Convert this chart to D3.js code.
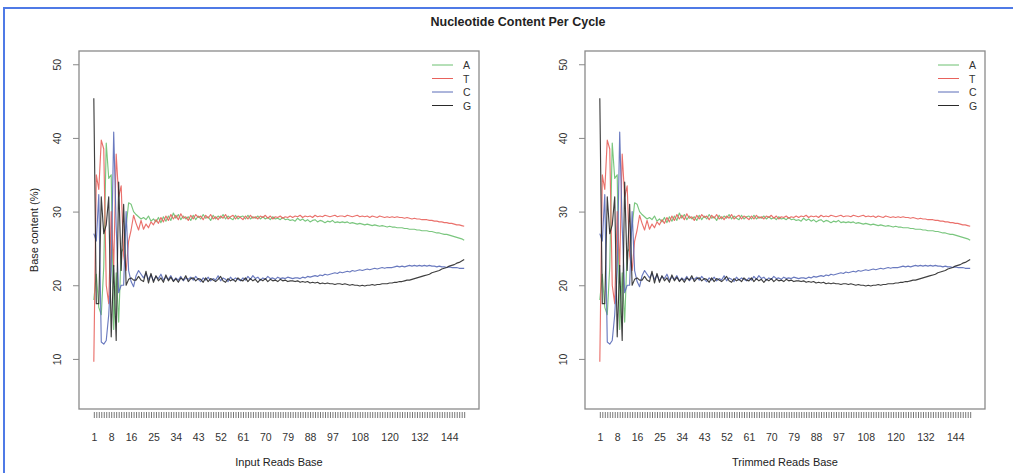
<!DOCTYPE html>
<html>
<head>
<meta charset="utf-8">
<script src="https://cdn.jsdelivr.net/npm/d3@7"></script>
<style>
  body { margin: 0; background: #fff; }
  svg { display: block; font-family: "Liberation Sans", Arial, Helvetica, sans-serif; }
</style>
</head>
<body>
<div id="chart"></div>
<script>
// base content (%) per cycle (positions 1..150)
const posA = [
  18, 21.5, 17, 16, 22.5, 39.3, 34.5, 35, 14, 21.7, 15, 24.5, 25, 28, 31.2, 31, 30, 29.6, 29.3, 29,
  29.2, 28.9, 29.4, 28.7, 29.0, 28.6, 29.2, 28.5, 29.3, 28.7, 29.4, 28.8, 29.8, 29.1, 29.6, 28.9, 29.4, 29.0, 29.3, 28.8,
  29.5, 28.9, 29.4, 29.0, 29.6, 29.1, 29.3, 28.8, 29.5, 29.0, 29.4, 29.1, 29.6, 29.0, 29.4, 29.1, 28.9, 29.5, 29.0, 29.3,
  29.4, 29.0, 29.5, 29.0, 29.3, 29.1, 29.4, 29.0, 29.3, 29.0, 29.2, 28.9, 29.3, 29.0, 29.1, 28.9, 29.2, 28.9, 29.0, 28.8,
  28.9, 28.7, 29.1, 28.8, 29.0, 28.7, 28.9, 28.6, 28.8, 28.9, 28.6, 28.8, 28.7, 28.5, 28.7, 28.6, 28.8, 28.5, 28.6, 28.5,
  28.6, 28.5, 28.6, 28.4, 28.5, 28.4, 28.3, 28.4, 28.3, 28.2, 28.3, 28.2, 28.1, 28.2, 28.1, 28.0, 28.1, 28.0, 27.9, 28.0,
  27.9, 27.9, 27.8, 27.8, 27.8, 27.7, 27.7, 27.6, 27.6, 27.6, 27.5, 27.5, 27.4, 27.4, 27.4, 27.3, 27.3, 27.2, 27.1, 27.1,
  27.0, 26.9, 26.9, 26.8, 26.7, 26.6, 26.5, 26.4, 26.3, 26.1
];
const posT = [
  9.6, 35, 33, 39.7, 38.5, 20, 17.5, 30, 22.5, 37.8, 32, 33.5, 24, 22, 26, 27.5, 29.5, 28.4, 27.5, 28.8,
  27.6, 28.3, 27.8, 28.6, 28.2, 28.9, 28.4, 29.2, 28.6, 29.4, 28.8, 29.6, 29.0, 29.5, 28.9, 29.7, 29.1, 29.3, 28.8, 29.5,
  29.0, 29.6, 29.2, 29.4, 28.9, 29.5, 29.1, 29.6, 29.0, 29.3, 28.9, 29.4, 29.1, 29.6, 29.0, 29.3, 29.5, 29.0, 29.4, 29.2,
  28.9, 29.4, 29.0, 29.5, 29.1, 29.3, 29.0, 29.4, 29.2, 29.5, 29.1, 29.4, 29.0, 29.3, 29.2, 29.4, 29.1, 29.3, 29.2, 29.4,
  29.2, 29.4, 29.3, 29.5, 29.2, 29.4, 29.3, 29.4, 29.2, 29.5, 29.3, 29.4, 29.3, 29.5, 29.4, 29.3, 29.4, 29.5, 29.3, 29.4,
  29.4, 29.3, 29.5, 29.4, 29.3, 29.4, 29.5, 29.3, 29.4, 29.3, 29.4, 29.2, 29.4, 29.3, 29.2, 29.4, 29.3, 29.2, 29.3, 29.2,
  29.3, 29.2, 29.3, 29.2, 29.2, 29.1, 29.2, 29.1, 29.0, 29.1, 29.0, 29.0, 28.9, 28.9, 28.9, 28.8, 28.8, 28.7, 28.7, 28.6,
  28.6, 28.5, 28.5, 28.4, 28.4, 28.3, 28.2, 28.2, 28.1, 28.0
];
const posC = [
  27, 26, 32.3, 12.3, 12, 12.5, 16, 22, 40.8, 28, 19, 20, 20, 30, 22, 20.5, 19.8, 21.3, 22, 21.5,
  21.0, 21.6, 20.8, 21.4, 20.6, 21.2, 20.9, 21.5, 20.7, 21.1, 20.8, 21.3, 20.6, 21.0, 20.7, 21.2, 20.6, 21.0, 20.8, 21.1,
  20.7, 21.2, 20.8, 20.5, 21.0, 20.7, 21.1, 20.6, 20.9, 20.7, 21.3, 20.6, 21.0, 20.8, 20.5, 21.1, 20.7, 21.0, 20.8, 20.6,
  21.0, 20.7, 21.2, 20.8, 21.3, 20.9, 21.1, 20.7, 21.0, 20.8, 21.2, 20.9, 21.0, 20.8, 21.1, 20.9, 21.0, 20.9, 21.1, 21.0,
  20.9, 21.0, 21.0, 20.9, 21.1, 21.0, 21.2, 21.1, 21.2, 21.3, 21.2, 21.4, 21.3, 21.5, 21.4, 21.5, 21.6, 21.7, 21.6, 21.8,
  21.7, 21.8, 21.9, 21.8, 22.0, 21.9, 22.0, 22.1, 22.0, 22.1, 22.2, 22.1, 22.2, 22.3, 22.2, 22.3, 22.4, 22.3, 22.4, 22.4,
  22.4, 22.5, 22.6, 22.5, 22.6, 22.5, 22.6, 22.7, 22.6, 22.7, 22.6, 22.7, 22.6, 22.7, 22.6, 22.7, 22.6, 22.6, 22.5, 22.6,
  22.5, 22.5, 22.4, 22.5, 22.4, 22.4, 22.4, 22.3, 22.3, 22.3
];
const posG = [
  45.4, 17.5, 17.5, 32, 27, 28.2, 32, 13, 22.7, 12.5, 34, 22, 31, 20, 20.8, 21, 20.7, 20.7, 21.2, 20.7,
  20.5, 21.9, 20.3, 21.6, 20.4, 21.3, 20.6, 21.0, 20.4, 21.4, 20.6, 21.1, 20.5, 20.9, 20.4, 21.0, 20.7, 21.3, 20.5, 20.9,
  21.0, 20.6, 20.9, 20.8, 20.4, 21.0, 20.5, 20.9, 20.7, 20.5, 20.8, 21.2, 20.6, 20.4, 20.9, 20.6, 20.8, 20.5, 21.0, 20.7,
  20.6, 21.0, 20.5, 20.9, 20.6, 20.8, 20.4, 20.8, 20.6, 20.9, 20.5, 20.8, 20.6, 20.7, 20.5, 20.8, 20.6, 20.7, 20.5, 20.6,
  20.6, 20.5, 20.6, 20.4, 20.5, 20.4, 20.5, 20.3, 20.4, 20.3, 20.4, 20.2, 20.3, 20.2, 20.3, 20.2, 20.2, 20.1, 20.2, 20.2,
  20.1, 20.2, 20.1, 20.0, 20.1, 20.0, 20.0, 19.9, 20.0, 19.9, 20.0, 20.0, 20.1, 20.0, 20.1, 20.1, 20.2, 20.2, 20.2, 20.3,
  20.3, 20.4, 20.4, 20.5, 20.5, 20.6, 20.7, 20.7, 20.8, 20.9, 21.0, 21.1, 21.2, 21.3, 21.4, 21.5, 21.7, 21.8, 21.9, 22.0,
  22.2, 22.3, 22.4, 22.6, 22.7, 22.8, 23.0, 23.1, 23.3, 23.5
];

const bases = ["A", "T", "C", "G"];
const baseColors = ["#6cc070", "#e8625c", "#5a6cb8", "#2a2a2a"];
const yTicks = [10, 20, 30, 40, 50];
const xTickLabels = [1, 8, 16, 25, 34, 43, 52, 61, 70, 79, 88, 97, 108, 120, 132, 144];
const panelTitles = ["Input Reads Base", "Trimmed Reads Base"];

const W = 1013, H = 473;
const nPos = posA.length;
const positions = d3.range(1, nPos + 1);
const seriesData = [posA, posT, posC, posG];

const svg = d3.select("#chart").append("svg")
  .attr("width", W)
  .attr("height", H);

// blue frame of the report page (top and left only)
svg.append("line").attr("x1", 3).attr("x2", W).attr("y1", 8).attr("y2", 8)
  .attr("stroke", "#4f7ae6").attr("stroke-width", 2);
svg.append("line").attr("x1", 4).attr("x2", 4).attr("y1", 8).attr("y2", H)
  .attr("stroke", "#4f7ae6").attr("stroke-width", 2);

svg.append("text")
  .attr("x", 518).attr("y", 26)
  .attr("text-anchor", "middle")
  .attr("font-size", 12.5).attr("font-weight", "bold").attr("fill", "#222")
  .text("Nucleotide Content Per Cycle");

function drawPanel(left, xTitle, showYTitle) {
  const top = 51, bottom = 409, right = left + 400;
  const pad = (nPos - 1) * 0.04;

  const x = d3.scaleLinear().domain([1 - pad, nPos + pad]).range([left, right]);
  const y = d3.scaleLinear().domain([3.2, 51.8]).range([bottom, top]);

  const g = svg.append("g");

  // series lines
  const line = d3.line()
    .x((d, i) => x(positions[i]))
    .y(d => y(d));

  seriesData.forEach((vals, k) => {
    g.append("path")
      .datum(vals)
      .attr("fill", "none")
      .attr("stroke", baseColors[k])
      .attr("stroke-width", 1.15)
      .attr("stroke-opacity", 0.9)
      .attr("stroke-linejoin", "round")
      .attr("d", line);
  });

  // plot box
  g.append("rect")
    .attr("x", left).attr("y", top)
    .attr("width", right - left).attr("height", bottom - top)
    .attr("fill", "none").attr("stroke", "#8a8a8a").attr("stroke-width", 1.3);

  // y axis
  const yAxis = g.append("g")
    .attr("transform", `translate(${left},0)`)
    .call(d3.axisLeft(y).tickValues(yTicks).tickSize(6).tickPadding(8).tickFormat(d3.format("d")));
  yAxis.select(".domain").remove();
  yAxis.selectAll(".tick line").attr("stroke", "#888");
  yAxis.selectAll(".tick text")
    .attr("font-size", 10.5).attr("fill", "#333")
    .attr("font-family", "Liberation Sans, Arial, sans-serif")
    .attr("text-anchor", "middle")
    .attr("x", 0).attr("dy", 0)
    .attr("transform", "translate(-18,0) rotate(-90)");

  // x axis: one tick per cycle, labels only where they fit
  const xAxis = g.append("g")
    .attr("transform", `translate(0,${bottom + 3})`)
    .call(d3.axisBottom(x).tickValues(positions).tickSize(6).tickFormat(""));
  xAxis.select(".domain").remove();
  xAxis.selectAll(".tick line").attr("stroke", "#777").attr("stroke-width", 1);

  const xLab = g.append("g")
    .attr("transform", `translate(0,${bottom + 2})`)
    .call(d3.axisBottom(x).tickValues(xTickLabels).tickSize(0).tickPadding(23).tickFormat(d3.format("d")));
  xLab.select(".domain").remove();
  xLab.selectAll(".tick text")
    .attr("font-size", 10.5).attr("fill", "#333")
    .attr("font-family", "Liberation Sans, Arial, sans-serif");

  g.append("text")
    .attr("x", (left + right) / 2).attr("y", 466)
    .attr("text-anchor", "middle")
    .attr("font-size", 11).attr("fill", "#222")
    .text(xTitle);

  if (showYTitle) {
    g.append("text")
      .attr("transform", `translate(38,${(top + bottom) / 2}) rotate(-90)`)
      .attr("text-anchor", "middle")
      .attr("font-size", 11).attr("fill", "#222")
      .text("Base content (%)");
  }

  // legend
  const leg = g.append("g").attr("transform", `translate(${right - 47},${top + 14})`);
  bases.forEach((b, k) => {
    leg.append("line")
      .attr("x1", 0).attr("x2", 21)
      .attr("y1", k * 13.5).attr("y2", k * 13.5)
      .attr("stroke", baseColors[k]).attr("stroke-width", 1);
    leg.append("text")
      .attr("x", 31).attr("y", k * 13.5 + 4)
      .attr("font-size", 10.5).attr("fill", "#333")
      .text(b);
  });
}

drawPanel(79, panelTitles[0], true);
drawPanel(585, panelTitles[1], false);
</script>
</body>
</html>
